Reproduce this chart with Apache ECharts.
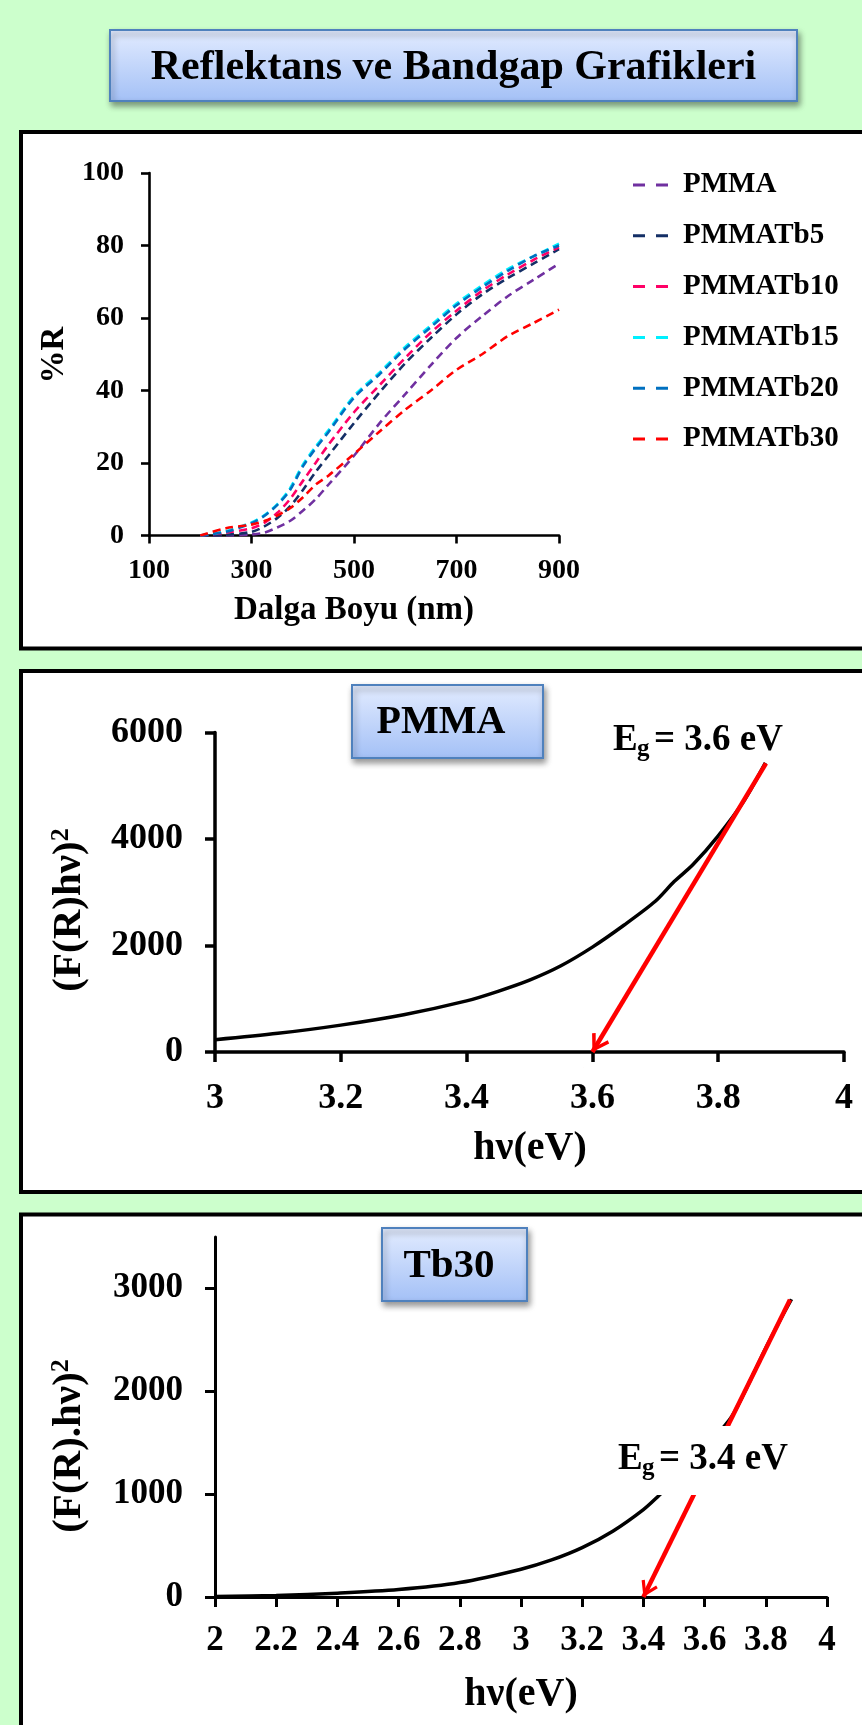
<!DOCTYPE html>
<html><head><meta charset="utf-8">
<script src="https://cdn.jsdelivr.net/npm/echarts@6/dist/echarts.min.js"></script>
<style>html,body{margin:0;padding:0;background:#CCFFCC;}#c{width:862px;height:1725px;}</style>
</head><body><div id="c"></div>
<script>
// ---------- Chart 1: reflectance ----------
const wavelength = [200,250,300,325,350,375,400,425,450,500,550,600,650,700,750,800,850,900];
const rPMMA   = [0,0,0.3,0.8,2.2,4,6.8,10,14,22,31,39,47,54.5,60.5,66,70.5,75];
const rTb5    = [0,0.2,1,2.5,4.8,8,12.5,17.5,22,31,39.5,47.5,54.5,61,66.5,71,75,79];
const rTb10   = [0,0.8,2,3.5,6.2,10,15,20,25,34,41.5,49,56,62,67.5,72,76,79.5];
const rTb15   = [0,1.2,3.6,5.6,8.6,13,19.5,24.5,29,38.5,45,52,58,64,69,73.5,77,80.5];
const rTb20   = [0,1,3.4,5.4,8.4,12.5,19,24,28.5,38,44.5,51.5,57.5,63.5,68.5,73,77,80];
const rTb30   = [0,2,3,4,5.5,7.5,10.5,14,16.5,22.5,28.7,34.7,40,45.7,50,55,58.6,62.3];
const reflNames  = ['PMMA','PMMATb5','PMMATb10','PMMATb15','PMMATb20','PMMATb30'];
const reflColors = ['#7030A0','#142F66','#FF0066','#00F0FF','#0070C0','#FF0000'];
const reflXTicks = [100,300,500,700,900];
const reflYTicks = [0,20,40,60,80,100];

// ---------- Chart 2: PMMA bandgap ----------
const hvPMMA = [3.0,3.1,3.2,3.3,3.4,3.45,3.5,3.55,3.6,3.65,3.7,3.73,3.76,3.8,3.84,3.875];
const frPMMA = [230,350,505,700,960,1140,1350,1620,1970,2380,2830,3200,3520,4060,4700,5430];
const pmmaFit = [[3.876,5420],[3.6,0]];
const pmmaXTicks = [3,3.2,3.4,3.6,3.8,4];
const pmmaYTicks = [0,2000,4000,6000];

// ---------- Chart 3: Tb30 bandgap ----------
const hvTb30 = [2.0,2.2,2.4,2.6,2.8,3.0,3.1,3.2,3.3,3.4,3.45,3.5,3.55,3.6,3.65,3.69,3.75,3.8,3.85,3.884];
const frTb30 = [5,15,37,72,140,270,360,480,640,850,985,1130,1290,1450,1610,1760,2110,2420,2710,2895];
const tb30Fit = [[3.879,2890],[3.4,0]];
const tb30XTicks = [2,2.2,2.4,2.6,2.8,3,3.2,3.4,3.6,3.8,4];
const tb30YTicks = [0,1000,2000,3000];

const FONT = '"Liberation Serif","Times New Roman",serif';
const zip = (a,b) => a.map((v,i)=>[v,b[i]]);
const arrowPath = 'path://M10,18 L20,34 L17,36 L10,24.5 L3,36 L0,34 Z M9.9,0 L10.1,0 L10,0.1 Z';

function axisCommon(w, tick, fs, margin, ticks){
  return {
    axisLine:{show:true,onZero:false,lineStyle:{color:'#000',width:w}},
    axisTick:{show:true,length:tick,inside:false,customValues:ticks,lineStyle:{color:'#000',width:w}},
    axisLabel:{customValues:ticks,margin:margin,fontSize:fs,fontWeight:'bold',fontFamily:FONT,color:'#000',
      formatter:function(v){return String(+v.toFixed(4));}},
    splitLine:{show:false}
  };
}

const chart = echarts.init(document.getElementById('c'), null, {renderer:'canvas'});

function boxGrad(){
  return new echarts.graphic.LinearGradient(0,0,0,1,[{offset:0,color:'#E3ECFF'},{offset:1,color:'#A3C0F6'}]);
}
function txt(text,x,y,size,opts){
  return Object.assign({type:'text',x:x,y:y,z:60,style:{text:text,fill:'#000',
    font:'bold '+size+'px '+FONT,align:'center',verticalAlign:'middle'}},opts||{});
}
function ltxt(text,x,y,size){
  return {type:'text',x:x,y:y,z:60,style:{text:text,fill:'#000',font:'bold '+size+'px '+FONT,align:'left',verticalAlign:'middle'}};
}
function yName(text,x,y){
  return {type:'text',x:x,y:y,z:60,rotation:Math.PI/2,style:{text:text,fill:'#000',
    font:'bold 41px '+FONT,align:'center',verticalAlign:'middle',
    rich:{s:{fontSize:26,fontWeight:'bold',fontFamily:FONT,verticalAlign:'top',fill:'#000'}}}};
}

const shadow = {shadowBlur:6,shadowOffsetX:2,shadowOffsetY:4,shadowColor:'rgba(0,0,0,0.4)'};
const graphics = [
  // panels
  {type:'rect',z:-20,shape:{x:21,y:132,width:900,height:516.5},style:{fill:'#fff',stroke:'#000',lineWidth:4}},
  {type:'rect',z:-20,shape:{x:21,y:671,width:900,height:521},style:{fill:'#fff',stroke:'#000',lineWidth:4}},
  {type:'rect',z:-20,shape:{x:21,y:1214.5,width:900,height:600},style:{fill:'#fff',stroke:'#000',lineWidth:4}},
  // title box
  {type:'rect',z:50,shape:{x:110,y:30,width:687,height:71},style:Object.assign({fill:boxGrad(),stroke:'#4F81BD',lineWidth:2},shadow)},
  txt('Reflektans ve Bandgap Grafikleri',453.5,67.8,42),
  // PMMA box
  {type:'rect',z:50,shape:{x:352,y:685,width:191,height:73},style:Object.assign({fill:boxGrad(),stroke:'#4F81BD',lineWidth:2},shadow)},
  txt('PMMA',441,723,40),
  // Tb30 box
  {type:'rect',z:50,shape:{x:382,y:1228,width:145,height:73},style:Object.assign({fill:boxGrad(),stroke:'#4F81BD',lineWidth:2},shadow)},
  txt('Tb30',449,1266,41),
  // axis names chart 1
  txt('%R',54,355,33,{rotation:Math.PI/2}),
  txt('Dalga Boyu (nm)',354,610,33),
  // axis names chart 2
  yName('(F(R)hν){s|2}',69,910),
  txt('hν(eV)',530,1149,40),
  // axis names chart 3
  yName('(F(R).hν){s|2}',69,1446),
  txt('hν(eV)',521,1695,40),
  // Eg label chart 2
  ltxt('E',613,740.5,37),
  ltxt('g',637,750,25),
  ltxt('= 3.6 eV',654,740.5,37),
  // Eg label chart 3 (white box)
  {type:'rect',z:55,shape:{x:600,y:1426,width:240,height:69},style:{fill:'#fff'}},
  ltxt('E',618,1459.5,37),
  ltxt('g',642,1469,25),
  ltxt('= 3.4 eV',659,1459.5,37)
];

const reflData = [rPMMA,rTb5,rTb10,rTb15,rTb20,rTb30];
const series = reflData.map((arr,i)=>({
  name:reflNames[i],type:'line',xAxisIndex:0,yAxisIndex:0,data:zip(wavelength,arr),
  smooth:0.3,symbol:'none',showSymbol:false,color:reflColors[i],
  itemStyle:{color:reflColors[i]},
  lineStyle:{color:reflColors[i],width:2.6,type:[8,5]}
}));

function bandSeries(xi, xs, ys, fit, arrowSize){
  return {type:'line',xAxisIndex:xi,yAxisIndex:xi,data:zip(xs,ys),smooth:0.3,symbol:'none',showSymbol:false,
    color:'#000',lineStyle:{color:'#000',width:3.5},
    markLine:{silent:true,animation:false,symbol:['none',arrowPath],symbolSize:arrowSize,
      label:{show:false},lineStyle:{color:'#FF0000',width:4.5,type:'solid'},
      emphasis:{disabled:true},
      data:[[{coord:fit[0]},{coord:fit[1]}]]}};
}
series.push(bandSeries(1,hvPMMA,frPMMA,pmmaFit,[20,36]));
series.push(bandSeries(2,hvTb30,frTb30,tb30Fit,[18,32]));

const option = {
  animation:false,
  backgroundColor:'#CCFFCC',
  grid:[
    {left:149,top:173,width:410,height:362.5},
    {left:215,top:732.5,width:629,height:319.5},
    {left:215,top:1237,width:612,height:360}
  ],
  xAxis:[
    Object.assign({type:'value',gridIndex:0,min:100,max:900,interval:200},axisCommon(2.6,8,28,21,reflXTicks)),
    Object.assign({type:'value',gridIndex:1,min:3,max:4,interval:0.2},axisCommon(3.5,10,36,29,pmmaXTicks)),
    Object.assign({type:'value',gridIndex:2,min:2,max:4,interval:0.2},axisCommon(3,10,35,26,tb30XTicks))
  ],
  yAxis:[
    Object.assign({type:'value',gridIndex:0,min:0,max:100,interval:20},axisCommon(2.6,8,28,25,reflYTicks)),
    Object.assign({type:'value',gridIndex:1,min:0,max:6000,interval:2000},axisCommon(3.5,10,36,32,pmmaYTicks)),
    Object.assign({type:'value',gridIndex:2,min:0,max:3500,interval:500},axisCommon(3,10,35,32,tb30YTicks))
  ],
  legend:{
    data:reflNames,orient:'vertical',left:628,top:165.5,itemGap:21.8,itemWidth:35,itemHeight:3,
    icon:'path://M0,0h12v3h-12z M23,0h12v3h-12z',selectedMode:false,
    textStyle:{fontSize:29,lineHeight:29,fontWeight:'bold',fontFamily:FONT,color:'#000',padding:[0,0,0,10]}
  },
  graphic:graphics,
  series:series
};
chart.setOption(option);
</script></body></html>
